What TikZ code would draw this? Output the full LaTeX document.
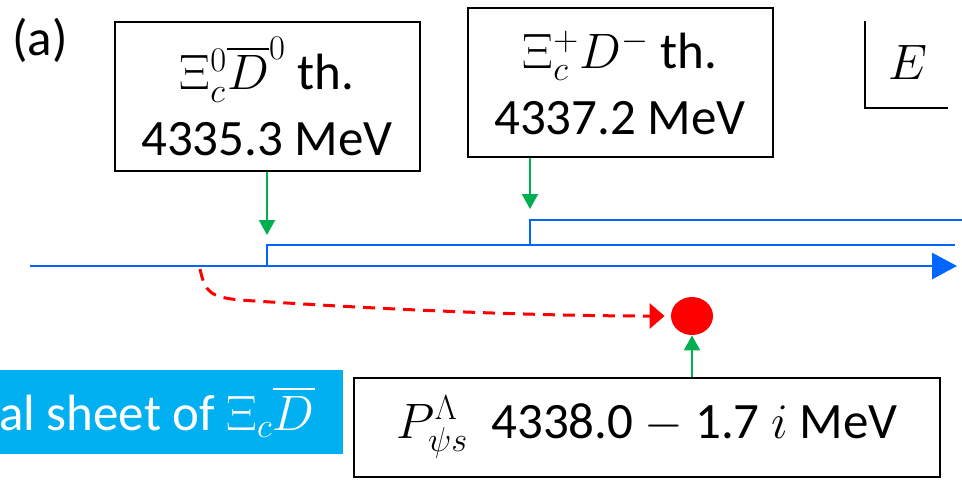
\documentclass[tikz,border=0pt]{standalone}
\usepackage{fontspec}
\setmainfont{Carlito}
\usepackage{amsmath}
\usepackage{tikz}
\usetikzlibrary{arrows.meta, shapes.geometric, calc}

\definecolor{axisblue}{HTML}{0066FF}
\definecolor{ptrgreen}{HTML}{00B050}
\definecolor{sheetcyan}{HTML}{00B0F0}

\begin{document}
\begin{tikzpicture}[
  x=0.5pt, y=-0.5pt,
  font=\fontsize{25.5}{33}\selectfont,
  box/.style={draw, line width=1pt, align=center, inner sep=0pt},
  thbox/.style={box, minimum width=152.5pt, minimum height=74.5pt},
  axis/.style={axisblue, line width=1.4pt},
  ptr/.style={-{Triangle[length=7.5pt, width=8pt]}, ptrgreen, line width=1pt},
  path/.style={-{Triangle[length=7.5pt, width=12.5pt]}, red, line width=1.5pt,
    dash pattern=on 6pt off 4pt},
]
  \useasboundingbox (0,0) rectangle (962,484);

  \node (lbl) at (40,40) {(a)};

  % thresholds
  \node[thbox] (th1) at (267,96.5) {$\Xi_c^0\overline{D}^0$ th.\\4335.3 MeV};
  \node[thbox] (th2) at (620,82.5) {$\Xi_c^+D^-$ th.\\4337.2 MeV};

  % energy plane
  \coordinate (ax0) at (30,266);
  \coordinate (ax1) at (957,266);
  \coordinate (c1) at (267,245);
  \coordinate (c2) at (530,220);
  \draw[axis, -{Triangle[length=12.5pt, width=13pt]}] (ax0) -- (ax1);
  \draw[axis] (c1 |- ax0) -- (c1) -- (955,245);
  \draw[axis] (c2 |- c1) -- (c2) -- (962,220);

  \draw[ptr] (th1.south) -- ([yshift=5pt]c1);
  \draw[ptr] (th2.south -| c2) -- ([yshift=5.5pt]c2);

  % E label
  \coordinate (e0) at (865,21);
  \coordinate (e1) at (948,108);
  \draw[line width=1pt] (e0) -- (e0 |- e1) -- (e1);
  \node[font=\fontsize{34}{40}\selectfont] (en) at (908,62) {$E$};

  % pole
  \node[ellipse, fill=red, inner sep=0pt, minimum width=21pt,
    minimum height=19pt] (pole) at (692,316) {};
  \coordinate (p0) at (200,269);
  \draw[path] (p0) .. controls (205,292) and (210,297) .. (240,300)
    .. controls (420,312) and (560,316) .. ([xshift=-3pt]pole.west);

  \node[box, minimum width=293pt, minimum height=49.5pt] (res) at (647,427.5)
    {$P^{\Lambda}_{\psi s}$\ \ 4338.0 $-$ 1.7 $i$ MeV};
  \draw[ptr] (pole |- res.north) -- (pole.south);

  \node[fill=sheetcyan, text=white, anchor=east, inner xsep=14pt,
    minimum height=42pt] (sheet) at (343,412)
    {\hbox to 143.5pt{\hss al sheet of $\Xi_c\overline{D}$}};
\end{tikzpicture}
\end{document}
